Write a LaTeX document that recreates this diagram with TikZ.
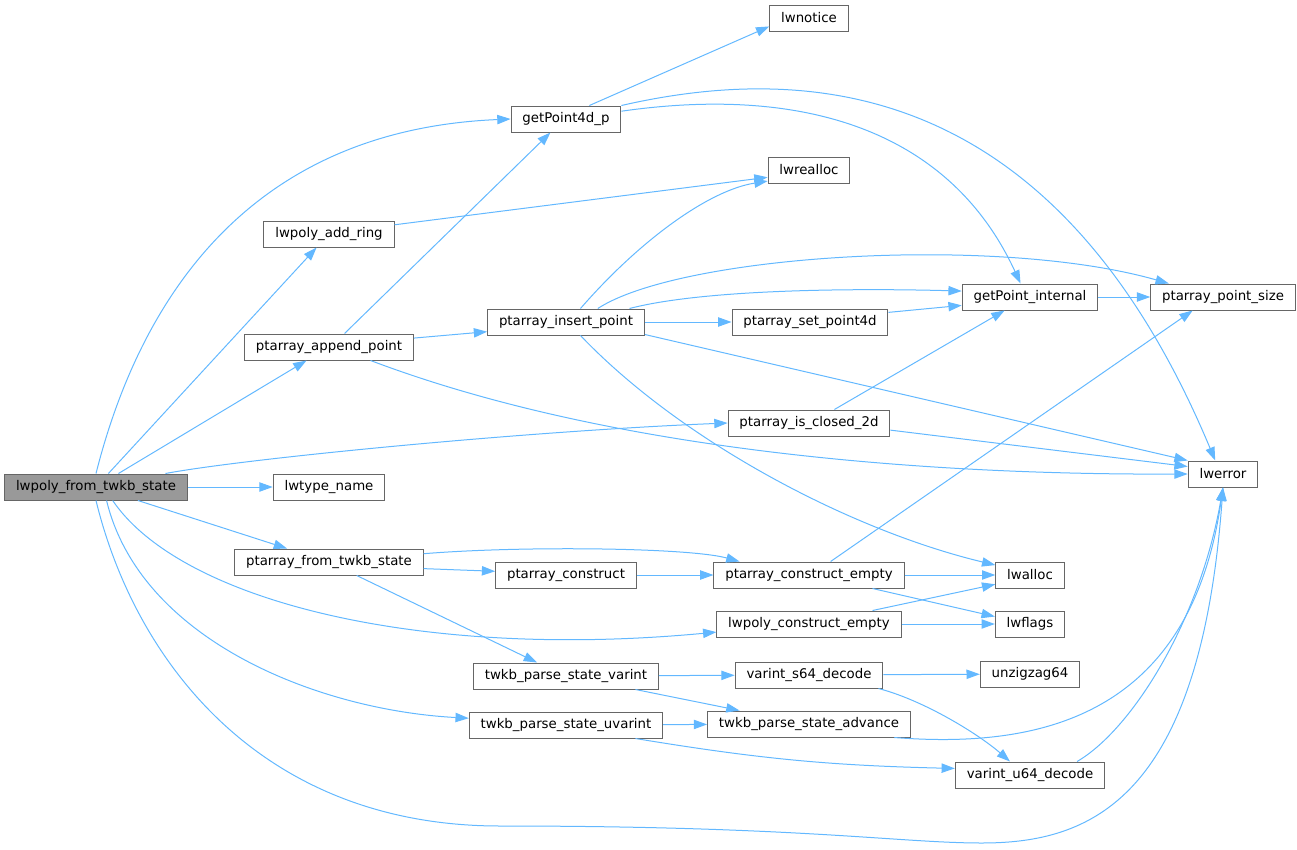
\documentclass[tikz,border=0pt]{standalone}
\usepackage{fontspec}
\setmainfont{DejaVu Sans}
\usepackage{tikz}
\usetikzlibrary{arrows.meta}
\usepackage{xcolor}
\definecolor{edgeblue}{HTML}{63B8FF}
\definecolor{boxgray}{HTML}{666666}
\definecolor{rootgray}{HTML}{999999}

\begin{document}
\begin{tikzpicture}[
  x=0.75pt, y=-0.75pt,
  every node/.style={font=\fontsize{10pt}{12pt}\selectfont},
  fn/.style={draw=boxgray, line width=0.75pt, fill=white, minimum height=19.5pt,
             inner xsep=8.5pt, inner ysep=0pt},
  caller/.style={fn, fill=rootgray},
  arr/.style={-{Triangle[length=10pt, width=7pt]}, draw=edgeblue, line width=0.75pt}
]
\useasboundingbox (0,0) rectangle (1297,850);

% caller
\node[caller] (lwfrom) at (96,487) {lwpoly\_from\_twkb\_state};

% first column of callees
\node[fn] (addring)  at (329,234) {lwpoly\_add\_ring};
\node[fn] (append)   at (329,347) {ptarray\_append\_point};
\node[fn] (tname)    at (329,487) {lwtype\_name};
\node[fn] (fromtwkb) at (329,562) {ptarray\_from\_twkb\_state};

% second column
\node[fn] (getpt)  at (566,119) {getPoint4d\_p};
\node[fn] (insert) at (566,322) {ptarray\_insert\_point};
\node[fn] (ctor)   at (566,575) {ptarray\_construct};
\node[fn] (pvar)   at (566,676) {twkb\_parse\_state\_varint};
\node[fn] (puvar)  at (566,725) {twkb\_parse\_state\_uvarint};

% third column
\node[fn] (notice)    at (809,18)  {lwnotice};
\node[fn] (realloc)   at (809,170) {lwrealloc};
\node[fn] (setpt)     at (810,322) {ptarray\_set\_point4d};
\node[fn] (closed)    at (809,423) {ptarray\_is\_closed\_2d};
\node[fn] (ctorempty) at (809,575) {ptarray\_construct\_empty};
\node[fn] (polyempty) at (809,624) {lwpoly\_construct\_empty};
\node[fn] (s64)       at (809,675) {varint\_s64\_decode};
\node[fn] (advance)   at (809,724) {twkb\_parse\_state\_advance};

% fourth column
\node[fn] (getint)  at (1030,297) {getPoint\_internal};
\node[fn] (lwalloc) at (1030,575) {lwalloc};
\node[fn] (flags)   at (1030,624) {lwflags};
\node[fn] (unzig)   at (1030,674) {unzigzag64};
\node[fn] (u64)     at (1030,775) {varint\_u64\_decode};

% last column
\node[fn] (ptsize) at (1223,297) {ptarray\_point\_size};
\node[fn] (lwerr)  at (1223,474) {lwerror};

% calls of lwpoly_from_twkb_state
\draw[arr] (lwfrom.north) .. controls +(44,-174) and +(-262,11) .. (getpt.west);
\draw[arr] (lwfrom) -- (addring);
\draw[arr] (lwfrom) -- (append);
\draw[arr] (lwfrom.11) .. controls +(80,-15) and +(-200,8) .. (closed.west);
\draw[arr] (lwfrom) -- (tname);
\draw[arr] (lwfrom) -- (fromtwkb);
\draw[arr] (lwfrom.321) .. controls +(68,100) and +(-298,28) .. (polyempty.185);
\draw[arr] (lwfrom.308) .. controls +(34,140) and +(-150,-8) .. (puvar.176);
\draw[arr] (lwfrom.south) .. controls +(39,160) and +(-240,0) .. (500,826)
  .. controls +(300,0) and +(-82,0) .. (982,843)
  .. controls +(108,0) and +(-23,313) .. (lwerr.south);

% getPoint4d_p
\draw[arr] (getpt.30) -- (notice.192);
\draw[arr] (getpt.north east) .. controls +(201,-46) and +(-155,-371) .. (lwerr.120);
\draw[arr] (getpt.8) .. controls +(181,-26) and +(-71,-154) .. (getint.125);

% lwpoly_add_ring
\draw[arr] (addring.8) -- (realloc.190);

% ptarray_append_point
\draw[arr] (append.41) -- (getpt.221);
\draw[arr] (append.6) -- (insert.187);
\draw[arr] (append.342) .. controls +(251,95) and +(-239,1) .. (lwerr.west);

% ptarray_insert_point
\draw[arr] (insert.43) .. controls +(60,-69) and +(-58,9) .. (realloc.195);
\draw[arr] (insert.23) .. controls +(83,-54) and +(-172,-49) .. (ptsize.166);
\draw[arr] (insert.12) .. controls +(73,-19) and +(-112,-3) .. (getint.175);
\draw[arr] (insert.east) -- (setpt.west);
\draw[arr] (insert.351) -- (lwerr.north west);
\draw[arr] (insert.317) .. controls +(100,105) and +(-146,-35) .. (lwalloc.164);

% helpers of getPoint_internal
\draw[arr] (setpt.7) -- (getint.187);
\draw[arr] (getint) -- (ptsize);
\draw[arr] (closed.28) -- (getint.208);
\draw[arr] (closed.355) -- (lwerr.168);

% ptarray_from_twkb_state
\draw[arr] (fromtwkb.5) .. controls +(97,-8) and +(-51,-14) .. (ctorempty.169);
\draw[arr] (fromtwkb.356) -- (ctor.177);
\draw[arr] (fromtwkb.334) -- (pvar.155);
\draw[arr] (ctor) -- (ctorempty);

% constructors
\draw[arr] (ctorempty.32) -- (ptsize.204);
\draw[arr] (ctorempty) -- (lwalloc);
\draw[arr] (ctorempty.348) -- (flags.168);
\draw[arr] (polyempty.12) -- (lwalloc.195);
\draw[arr] (polyempty) -- (flags);

% varint parsing
\draw[arr] (pvar) -- (s64);
\draw[arr] (pvar.349) -- (advance.169);
\draw[arr] (puvar) -- (advance);
\draw[arr] (puvar.349) to[bend right=4] (u64.175);
\draw[arr] (s64) -- (unzig);
\draw[arr] (s64.349) .. controls +(46,12) and +(-31,-27) .. (u64.146);
\draw[arr] (advance.351) .. controls +(140,11) and +(-33,233) .. (lwerr.south);
\draw[arr] (u64.16) .. controls +(55,-32) and +(-23,133) .. (lwerr.south);
\end{tikzpicture}
\end{document}
